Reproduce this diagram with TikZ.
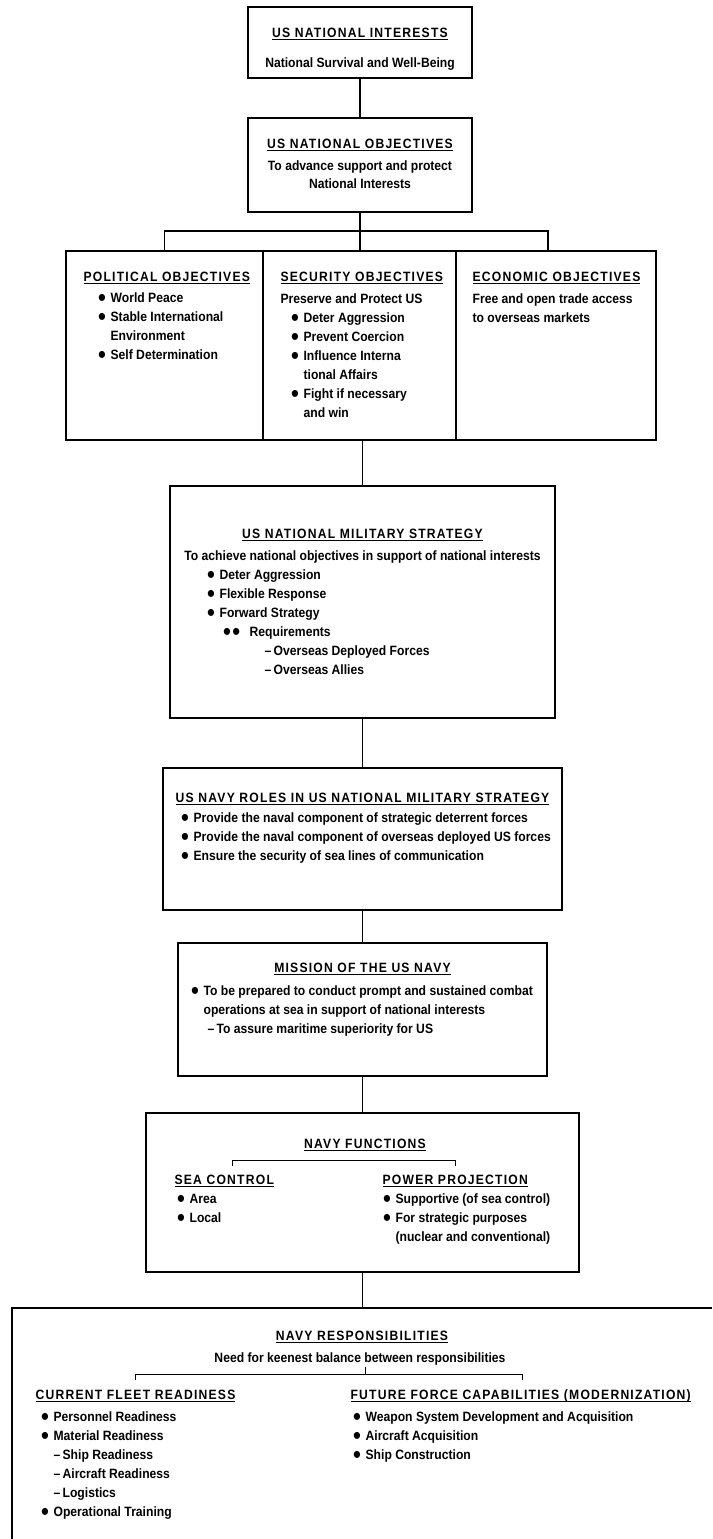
\documentclass[tikz,border=0pt]{standalone}
\usepackage{fontspec}
\setmainfont{Liberation Sans}[FakeStretch=0.9]
\newfontfamily\headfont{Liberation Sans}[FakeStretch=0.9,LetterSpace=9]
\usetikzlibrary{positioning}
\newcommand\bltmark{\raisebox{-0.3pt}{\scalebox{1.2}{●}}}
\newcommand\itm{\makebox[13pt][l]{\bltmark}}
\newcommand\ulhead[1]{\setbox0\hbox{\headfont #1}\rlap{\rule[-3pt]{\wd0}{1.2pt}}\box0}

\begin{document}
\begin{tikzpicture}[x=1pt,y=-1pt,line width=1.2pt,
  box/.style={draw,inner sep=0pt},
  txt/.style={inner sep=0pt,font=\fontsize{13.5}{19}\selectfont\bfseries},
  head/.style={txt,anchor=base},
  line/.style={txt,anchor=base west}]
  \useasboundingbox (0,0) rectangle (712,1539);

  \node[box,minimum width=224pt,minimum height=71pt] (interests) at (360,42.5) {};
  \node[box,minimum width=224pt,minimum height=94pt] (objectives) at (360,165) {};
  \node[box,minimum width=197pt,minimum height=189pt] (political) at (164.5,345.5) {};
  \node[box,minimum width=193pt,minimum height=189pt] (security) at (359.5,345.5) {};
  \node[box,minimum width=200pt,minimum height=189pt] (economic) at (556,345.5) {};
  \node[box,minimum width=385pt,minimum height=232pt] (strategy) at (362.5,602) {};
  \node[box,minimum width=399pt,minimum height=142pt] (roles) at (362.5,839) {};
  \node[box,minimum width=369pt,minimum height=133pt] (mission) at (362.5,1009.5) {};
  \node[box,minimum width=433pt,minimum height=159pt] (functions) at (362.5,1192.5) {};
  \coordinate (respCorner) at (12,1308);
  \coordinate (respRight) at (712,1308);
  \coordinate (respFoot) at (12,1539);
  \draw (respRight) -- (respCorner) -- (respFoot);

  \coordinate (bus) at (360,231);
  \coordinate (busR) at (548,251);
  \draw (interests.south) -- (objectives.north);
  \draw (objectives.south) -- (objectives.south |- security.north);
  \draw (political.north) |- (bus) -| (busR);
  \draw (security.south -| strategy.north) -- (strategy.north);
  \draw (strategy.south) -- (roles.north);
  \draw (roles.south) -- (mission.north);
  \draw (mission.south) -- (functions.north);
  \draw (functions.south) -- (functions.south |- respCorner);

  \node[head] (interestsHead) at (360,37) {\ulhead{US NATIONAL INTERESTS}};
  \node[head] (interestsText) at (360,67) {National Survival and Well-Being};

  \node[head] (objectivesHead) at (360,148) {\ulhead{US NATIONAL OBJECTIVES}};
  \node[head] (objectivesText1) at (360,170) {To advance support and protect};
  \node[head] (objectivesText2) at (360,188) {National Interests};

  \node[line] (politicalHead) at (83,281) {\ulhead{POLITICAL OBJECTIVES}};
  \node[line] (pol1) at (97,302) {\itm World Peace};
  \node[line] (pol2) at (97,321) {\itm Stable International};
  \node[line] (pol3) at (110,340) {Environment};
  \node[line] (pol4) at (97,359) {\itm Self Determination};

  \node[line] (securityHead) at (280,281) {\ulhead{SECURITY OBJECTIVES}};
  \node[line] (sec0) at (280,303) {Preserve and Protect US};
  \node[line] (sec1) at (290,322) {\itm Deter Aggression};
  \node[line] (sec2) at (290,341) {\itm Prevent Coercion};
  \node[line] (sec3) at (290,360) {\itm Influence Interna};
  \node[line] (sec4) at (303,379) {tional Affairs};
  \node[line] (sec5) at (290,398) {\itm Fight if necessary};
  \node[line] (sec6) at (303,417) {and win};

  \node[line] (economicHead) at (472,281) {\ulhead{ECONOMIC OBJECTIVES}};
  \node[line] (eco1) at (472,303) {Free and open trade access};
  \node[line] (eco2) at (472,322) {to overseas markets};

  \node[head] (strategyHead) at (362.5,538) {\ulhead{US NATIONAL MILITARY STRATEGY}};
  \node[head] (strategyText) at (362.5,560) {To achieve national objectives in support of national interests};
  \node[line] (str1) at (206,579) {\itm Deter Aggression};
  \node[line] (str2) at (206,598) {\itm Flexible Response};
  \node[line] (str3) at (206,617) {\itm Forward Strategy};
  \node[line] (str4) at (222,636) {\bltmark\kern0.5pt\bltmark\hspace{9pt}Requirements};
  \node[line] (str5) at (264,655) {--\,Overseas Deployed Forces};
  \node[line] (str6) at (264,674) {--\,Overseas Allies};

  \node[head] (rolesHead) at (362.5,802) {\ulhead{US NAVY ROLES IN US NATIONAL MILITARY STRATEGY}};
  \node[line] (rol1) at (180,822) {\itm Provide the naval component of strategic deterrent forces};
  \node[line] (rol2) at (180,841) {\itm Provide the naval component of overseas deployed US forces};
  \node[line] (rol3) at (180,860) {\itm Ensure the security of sea lines of communication};

  \node[head] (missionHead) at (362.5,972) {\ulhead{MISSION OF THE US NAVY}};
  \node[line] (mis1) at (190,995) {\itm To be prepared to conduct prompt and sustained combat};
  \node[line] (mis2) at (203,1014) {operations at sea in support of national interests};
  \node[line] (mis3) at (207,1033) {--\,To assure maritime superiority for US};

  \node[head] (functionsHead) at (365,1148) {\ulhead{NAVY FUNCTIONS}};
  \coordinate (fbL) at (232,1166);
  \coordinate (fbR) at (455,1166);
  \draw[line width=1pt] (fbL) -- ++(0,-6) -| (fbR);
  \node[line] (seaHead) at (174,1184) {\ulhead{SEA CONTROL}};
  \node[line] (sea1) at (176,1203) {\itm Area};
  \node[line] (sea2) at (176,1222) {\itm Local};
  \node[line] (powerHead) at (382,1184) {\ulhead{POWER PROJECTION}};
  \node[line] (pow1) at (382,1203) {\itm Supportive (of sea control)};
  \node[line] (pow2) at (382,1222) {\itm For strategic purposes};
  \node[line] (pow3) at (395,1241) {(nuclear and conventional)};

  \node[head] (respHead) at (362,1340) {\ulhead{NAVY RESPONSIBILITIES}};
  \node[head] (respText) at (360,1362) {Need for keenest balance between responsibilities};
  \coordinate (rbL) at (135,1380);
  \coordinate (rbR) at (522,1380);
  \coordinate (rbTop) at (365,1367);
  \coordinate (rbMid) at (365,1374);
  \draw[line width=1pt] (rbL) -- ++(0,-6) -| (rbR);
  \draw[line width=1pt] (rbTop) -- (rbMid);
  \node[line] (currentHead) at (35,1399) {\ulhead{CURRENT FLEET READINESS}};
  \node[line] (cur1) at (40,1421) {\itm Personnel Readiness};
  \node[line] (cur2) at (40,1440) {\itm Material Readiness};
  \node[line] (cur3) at (53,1459) {--\,Ship Readiness};
  \node[line] (cur4) at (53,1478) {--\,Aircraft Readiness};
  \node[line] (cur5) at (53,1497) {--\,Logistics};
  \node[line] (cur6) at (40,1516) {\itm Operational Training};
  \node[line] (futureHead) at (350,1399) {\ulhead{FUTURE FORCE CAPABILITIES (MODERNIZATION)}};
  \node[line] (fut1) at (352,1421) {\itm Weapon System Development and Acquisition};
  \node[line] (fut2) at (352,1440) {\itm Aircraft Acquisition};
  \node[line] (fut3) at (352,1459) {\itm Ship Construction};
\end{tikzpicture}
\end{document}
